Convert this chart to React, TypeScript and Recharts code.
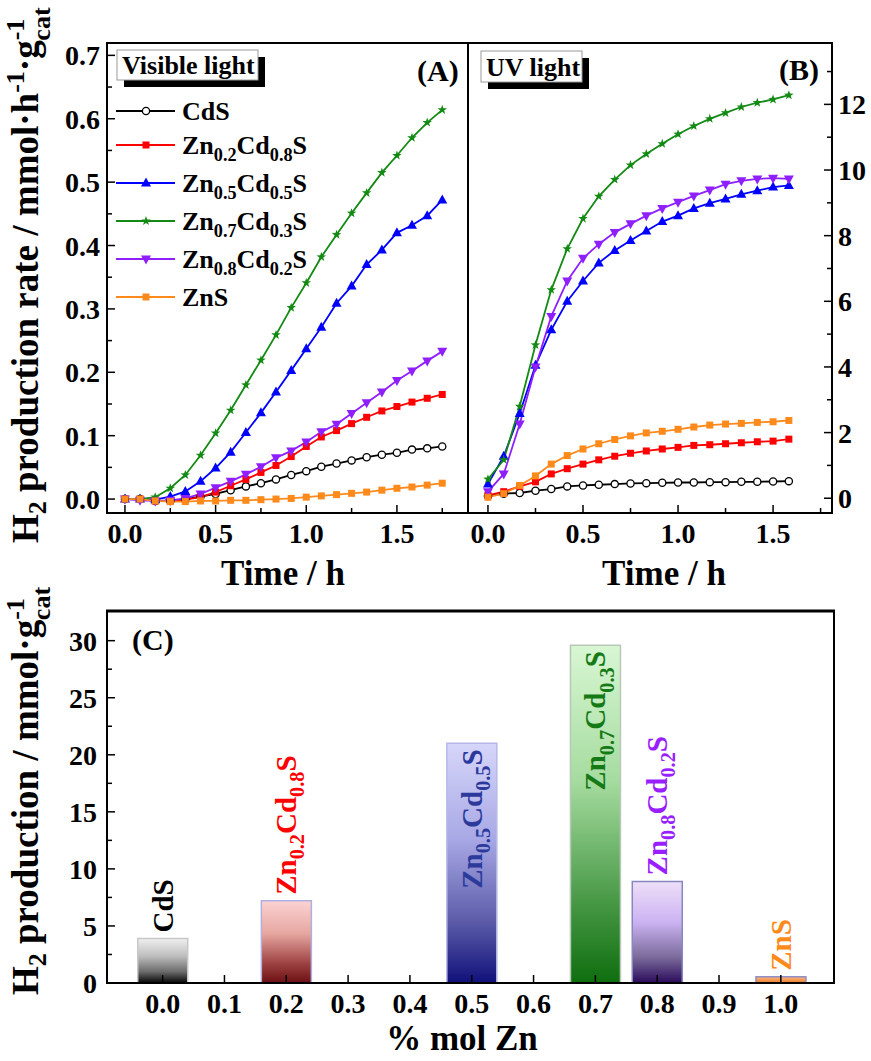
import { LineChart, Line, XAxis, YAxis, BarChart, Bar, Cell, LabelList, Legend } from 'recharts';

const SERIF = "'Liberation Serif', 'Times New Roman', serif";

// (A) visible light, rate vs time
const TIME_A = [0, 0.083, 0.167, 0.25, 0.333, 0.417, 0.5, 0.583, 0.667, 0.75, 0.833, 0.917, 1.0, 1.083, 1.167, 1.25, 1.333, 1.417, 1.5, 1.583, 1.667, 1.75];
const CDS_A = [0, 0, -0.003, -0.003, 0, 0.004, 0.008, 0.014, 0.02, 0.025, 0.031, 0.038, 0.044, 0.051, 0.056, 0.061, 0.066, 0.07, 0.073, 0.078, 0.08, 0.083];
const ZN02_A = [0, 0, -0.003, -0.003, -0.001, 0.003, 0.011, 0.021, 0.031, 0.042, 0.053, 0.067, 0.083, 0.098, 0.108, 0.119, 0.129, 0.139, 0.146, 0.153, 0.159, 0.165];
const ZN05_A = [0, 0, -0.001, 0.004, 0.012, 0.028, 0.049, 0.074, 0.105, 0.136, 0.169, 0.203, 0.237, 0.271, 0.309, 0.336, 0.37, 0.393, 0.42, 0.432, 0.447, 0.472];
const ZN07_A = [0, 0, 0.003, 0.017, 0.038, 0.069, 0.104, 0.14, 0.18, 0.219, 0.259, 0.302, 0.341, 0.382, 0.417, 0.451, 0.483, 0.515, 0.542, 0.57, 0.594, 0.614];
const ZN08_A = [0, -0.002, -0.003, -0.002, 0.001, 0.008, 0.018, 0.028, 0.039, 0.051, 0.065, 0.076, 0.09, 0.106, 0.118, 0.135, 0.152, 0.169, 0.187, 0.202, 0.218, 0.233];
const ZNS_A = [0, 0, -0.003, -0.004, -0.004, -0.003, -0.003, -0.002, -0.002, -0.001, 0, 0.001, 0.003, 0.005, 0.007, 0.009, 0.011, 0.014, 0.017, 0.019, 0.022, 0.025];

// (B) UV light
const TIME_B = [0, 0.083, 0.167, 0.25, 0.333, 0.417, 0.5, 0.583, 0.667, 0.75, 0.833, 0.917, 1.0, 1.083, 1.167, 1.25, 1.333, 1.417, 1.5, 1.583];
const CDS_B = [0.07, 0.14, 0.16, 0.23, 0.28, 0.36, 0.39, 0.41, 0.43, 0.45, 0.46, 0.47, 0.48, 0.48, 0.49, 0.49, 0.5, 0.5, 0.51, 0.52];
const ZN02_B = [0.09, 0.2, 0.36, 0.5, 0.74, 0.9, 1.04, 1.17, 1.28, 1.37, 1.44, 1.5, 1.55, 1.61, 1.63, 1.66, 1.69, 1.72, 1.74, 1.8];
const ZN05_B = [0.43, 1.28, 2.58, 4.05, 5.13, 6.0, 6.62, 7.17, 7.55, 7.85, 8.14, 8.43, 8.61, 8.83, 8.99, 9.12, 9.26, 9.37, 9.48, 9.53];
const ZN07_B = [0.58, 1.17, 2.8, 4.67, 6.35, 7.6, 8.52, 9.2, 9.71, 10.15, 10.49, 10.8, 11.09, 11.34, 11.56, 11.74, 11.92, 12.05, 12.15, 12.28];
const ZN08_B = [0.2, 0.74, 2.26, 4.0, 5.54, 6.62, 7.31, 7.74, 8.1, 8.36, 8.61, 8.83, 9.02, 9.21, 9.39, 9.57, 9.67, 9.73, 9.75, 9.73];
const ZNS_B = [0.03, 0.14, 0.39, 0.68, 1.04, 1.3, 1.5, 1.66, 1.79, 1.9, 1.99, 2.04, 2.1, 2.17, 2.23, 2.26, 2.28, 2.31, 2.33, 2.37];

// (C) total H2 vs Zn fraction
const ZN_FRACTION = [0, 0.2, 0.5, 0.7, 0.8, 1.0];
const TOTAL_H2 = [3.9, 7.2, 21.0, 29.6, 8.9, 0.55];
const BAR_NAMES = ['CdS', 'Zn0.2Cd0.8S', 'Zn0.5Cd0.5S', 'Zn0.7Cd0.3S', 'Zn0.8Cd0.2S', 'ZnS'];

const A_Y_TICKS = [0, 0.05, 0.1, 0.15, 0.2, 0.25, 0.3, 0.35, 0.4, 0.45, 0.5, 0.55, 0.6, 0.65, 0.7];
const TIME_TICKS = [0, 0.25, 0.5, 0.75, 1.0, 1.25, 1.5, 1.75];
const B_Y_TICKS = [0, 1, 2, 3, 4, 5, 6, 7, 8, 9, 10, 11, 12, 13];
const C_Y_TICKS = [0, 2.5, 5, 7.5, 10, 12.5, 15, 17.5, 20, 22.5, 25, 27.5, 30];
const C_X_TICKS = [0, 0.1, 0.2, 0.3, 0.4, 0.5, 0.6, 0.7, 0.8, 0.9, 1.0];

const SERIES = [
  { key: 'cds', name: 'CdS', color: '#000000', shape: 'circle', a: CDS_A, b: CDS_B },
  { key: 'zn02', name: 'Zn0.2Cd0.8S', color: '#ff0000', shape: 'square', a: ZN02_A, b: ZN02_B },
  { key: 'zn05', name: 'Zn0.5Cd0.5S', color: '#0000ff', shape: 'up', a: ZN05_A, b: ZN05_B },
  { key: 'zn07', name: 'Zn0.7Cd0.3S', color: '#138a13', shape: 'star', a: ZN07_A, b: ZN07_B },
  { key: 'zn08', name: 'Zn0.8Cd0.2S', color: '#8f1fff', shape: 'down', a: ZN08_A, b: ZN08_B },
  { key: 'zns', name: 'ZnS', color: '#ff8a1c', shape: 'square', a: ZNS_A, b: ZNS_B },
];

const BAR_STYLE = [
  { label: '#000000', edge: '#c8c8c8', stops: ['#f0f0f0', '#bdbdbd', '#6a6a6a', '#050505'], inside: false },
  { label: '#ff0000', edge: '#b0b0e0', stops: ['#fbd3d3', '#e6a6a0', '#a04545', '#6b0f12'], inside: false },
  { label: '#2c3a9c', edge: '#b8b8e8', stops: ['#d6d6fa', '#a8a8e6', '#5a5aa8', '#10107a'], inside: true },
  { label: '#157a15', edge: '#b8c8b8', stops: ['#d8f6d3', '#a6dca0', '#4a9a48', '#0e6e0e'], inside: true },
  { label: '#9a1fff', edge: '#8888c0', stops: ['#eedff8', '#cbb3f2', '#7a6a9a', '#2a0a5a'], inside: false },
  { label: '#ff8a1c', edge: '#9090c8', stops: ['#f7b27a', '#f5a060', '#f08a3a', '#f08a3a'], inside: false },
];

const dataA = TIME_A.map((t, i) => {
  const row: Record<string, number> = { t };
  SERIES.forEach((s) => (row[s.key] = s.a[i]));
  return row;
});
const dataB = TIME_B.map((t, i) => {
  const row: Record<string, number> = { t };
  SERIES.forEach((s) => (row[s.key] = s.b[i]));
  return row;
});
const dataC = ZN_FRACTION.map((x, i) => ({ x, value: TOTAL_H2[i] }));

// digits after letters become subscripts: Zn0.2Cd0.8S
function formula(name: string, size: number) {
  const parts = name.match(/[A-Za-z]+|[0-9.]+/g) || [];
  let low = false;
  return parts.map((p, i) => {
    const sub = /^[0-9.]/.test(p);
    const dy = sub && !low ? size * 0.28 : !sub && low ? -size * 0.28 : 0;
    low = sub;
    return (
      <tspan key={i} dy={dy} fontSize={sub ? size * 0.7 : size}>
        {p}
      </tspan>
    );
  });
}

function Marker({ cx, cy, shape, color }: { cx: number; cy: number; shape: string; color: string }) {
  if (cx == null || cy == null) return null;
  if (shape === 'circle') return <circle cx={cx} cy={cy} r={3.6} fill="#fff" stroke={color} strokeWidth={1.3} />;
  if (shape === 'square') return <rect x={cx - 3.5} y={cy - 3.5} width={7} height={7} fill={color} />;
  if (shape === 'up') return <polygon points={`${cx},${cy - 5.5} ${cx - 5},${cy + 3.5} ${cx + 5},${cy + 3.5}`} fill={color} />;
  if (shape === 'down') return <polygon points={`${cx},${cy + 5.5} ${cx - 5},${cy - 3.5} ${cx + 5},${cy - 3.5}`} fill={color} />;
  const pts: string[] = [];
  for (let k = 0; k < 10; k++) {
    const r = k % 2 === 0 ? 5 : 2;
    const a = -Math.PI / 2 + (k * Math.PI) / 5;
    pts.push(`${cx + r * Math.cos(a)},${cy + r * Math.sin(a)}`);
  }
  return <polygon points={pts.join(' ')} fill={color} />;
}

const tickText = { fontFamily: SERIF, fontWeight: 700, fontSize: 28, fill: '#000' };

// ticks point into the plot, so draw them ourselves
function leftTick(isMajor: (v: number) => boolean, fmt: (v: number) => string, gap: number) {
  return (props: any) => {
    const { x, y, payload } = props;
    const maj = isMajor(payload.value);
    return (
      <g key={`lt-${payload.value}`}>
        <line x1={x} x2={x + (maj ? 8 : 5)} y1={y} y2={y} stroke="#000" strokeWidth={1.5} />
        {maj && (
          <text x={x - gap} y={y + 10} textAnchor="end" {...tickText}>
            {fmt(payload.value)}
          </text>
        )}
      </g>
    );
  };
}

function rightTick(props: any) {
  const { x, y, payload } = props;
  const maj = payload.value % 2 === 0;
  return (
    <g key={`rt-${payload.value}`}>
      <line x1={x} x2={x - (maj ? 8 : 5)} y1={y} y2={y} stroke="#000" strokeWidth={1.5} />
      {maj && (
        <text x={x + 6} y={y + 10} textAnchor="start" {...tickText}>
          {payload.value}
        </text>
      )}
    </g>
  );
}

function bottomTick(isMajor: (v: number) => boolean, baseline: number) {
  return (props: any) => {
    const { x, y, payload } = props;
    const maj = isMajor(payload.value);
    return (
      <g key={`bt-${payload.value}`}>
        <line x1={x} x2={x} y1={y} y2={y - (maj ? 8 : 5)} stroke="#000" strokeWidth={1.5} />
        {maj && (
          <text x={x} y={y + baseline} textAnchor="middle" {...tickText}>
            {payload.value.toFixed(1)}
          </text>
        )}
      </g>
    );
  };
}

const halfHour = (v: number) => Math.abs(v * 2 - Math.round(v * 2)) < 1e-6;
const tenth = (v: number) => Math.abs(v * 10 - Math.round(v * 10)) < 1e-6;

const LEG_Y = [19, 53, 91, 129, 167, 205];

function LegendA() {
  return (
    <svg width={200} height={225} style={{ overflow: 'visible', display: 'block' }}>
      {SERIES.map((s, i) => (
        <g key={s.key}>
          <line x1={4} x2={63} y1={LEG_Y[i]} y2={LEG_Y[i]} stroke={s.color} strokeWidth={1.8} />
          <Marker cx={34} cy={LEG_Y[i]} shape={s.shape} color={s.color} />
          <text x={70} y={LEG_Y[i] + 9} fontFamily={SERIF} fontWeight={700} fontSize={26} fill="#000">
            {formula(s.name, 26)}
          </text>
        </g>
      ))}
    </svg>
  );
}

function barLabel(props: any) {
  const { x, y, width, index } = props;
  const st = BAR_STYLE[index];
  const size = 29;
  const cx = x + width / 2 + 10;
  const yy = st.inside ? y + 6 : y - 6;
  return (
    <text
      key={`bl-${index}`}
      transform={`translate(${cx},${yy}) rotate(-90)`}
      textAnchor={st.inside ? 'end' : 'start'}
      fontFamily={SERIF}
      fontWeight={700}
      fontSize={size}
      fill={st.label}
    >
      {formula(BAR_NAMES[index], size)}
    </text>
  );
}

const titleStyle = { fontFamily: SERIF, fontWeight: 700, fill: '#000' } as const;

function Overlay() {
  return (
    <svg width={871} height={1061} style={{ position: 'absolute', left: 0, top: 0, pointerEvents: 'none' }}>
      {/* frames */}
      <rect x={107} y={43} width={361} height={470} fill="none" stroke="#000" strokeWidth={2} />
      <rect x={468} y={43} width={364} height={470} fill="none" stroke="#000" strokeWidth={2} />
      <rect x={107} y={611} width={727} height={372} fill="none" stroke="#000" strokeWidth={2} />
      <line x1={106} x2={835} y1={611} y2={611} stroke="#000" strokeWidth={3} />

      {/* legend tags */}
      <rect x={124} y={57} width={141} height={30} fill="#000" />
      <rect x={117} y={50} width={141} height={30} fill="#fff" stroke="#9a9a9a" strokeWidth={1} />
      <text x={122} y={74} fontSize={26} {...titleStyle}>Visible light</text>
      <rect x={488} y={58} width={101} height={31} fill="#000" />
      <rect x={481} y={51} width={101} height={31} fill="#fff" stroke="#9a9a9a" strokeWidth={1} />
      <text x={486} y={76} fontSize={26} {...titleStyle}>UV light</text>

      <text x={417} y={81} fontSize={30} {...titleStyle}>(A)</text>
      <text x={779} y={80} fontSize={30} {...titleStyle}>(B)</text>
      <text x={132} y={650} fontSize={30} {...titleStyle}>(C)</text>

      <text x={283} y={585} fontSize={35} textAnchor="middle" {...titleStyle}>Time / h</text>
      <text x={664} y={585} fontSize={35} textAnchor="middle" {...titleStyle}>Time / h</text>
      <text x={462} y={1050} fontSize={35} textAnchor="middle" {...titleStyle}>% mol Zn</text>

      <text transform="translate(38,543) rotate(-90)" fontSize={37} {...titleStyle}>
        H<tspan dy={8} fontSize={26}>2</tspan>
        <tspan dy={-8}> production rate / mmol·h</tspan>
        <tspan dy={-14} fontSize={26}>-1</tspan>
        <tspan dy={14}>·g</tspan>
        <tspan dy={-14} fontSize={26}>-1</tspan>
        <tspan dx={-22} dy={26} fontSize={26}>cat</tspan>
      </text>
      <text transform="translate(38,995) rotate(-90)" fontSize={37} {...titleStyle}>
        H<tspan dy={8} fontSize={26}>2</tspan>
        <tspan dy={-8}> production / mmol·g</tspan>
        <tspan dy={-14} fontSize={26}>-1</tspan>
        <tspan dx={-22} dy={26} fontSize={26}>cat</tspan>
      </text>
    </svg>
  );
}

export default function App() {
  return (
    <div style={{ position: 'absolute', left: 0, top: 0, width: 871, height: 1061, background: '#fff', overflow: 'hidden' }}>
      <div style={{ position: 'absolute', left: 0, top: 0 }}>
        <LineChart width={470} height={560} data={dataA} margin={{ top: 43, right: 2, bottom: 0, left: 0 }}>
          <XAxis
            dataKey="t"
            type="number"
            domain={[-0.099, 1.892]}
            allowDataOverflow
            ticks={TIME_TICKS}
            height={47}
            axisLine={false}
            tickLine={false}
            tickSize={0}
            tickMargin={0}
            interval={0}
            tick={bottomTick(halfHour, 30)}
          />
          <YAxis
            type="number"
            domain={[-0.022, 0.7195]}
            allowDataOverflow
            ticks={A_Y_TICKS}
            width={107}
            axisLine={false}
            tickLine={false}
            tickSize={0}
            tickMargin={0}
            interval={0}
            tick={leftTick(tenth, (v) => v.toFixed(1), 7)}
          />
          {SERIES.map((s) => (
            <Line
              key={s.key}
              dataKey={s.key}
              name={s.name}
              stroke={s.color}
              strokeWidth={1.8}
              isAnimationActive={false}
              dot={(p: any) => <Marker key={`${s.key}-${p.index}`} cx={p.cx} cy={p.cy} shape={s.shape} color={s.color} />}
            />
          ))}
          <Legend
            layout="vertical"
            align="center"
            verticalAlign="middle"
            content={LegendA}
            wrapperStyle={{ left: 112, top: 92, width: 200, height: 225 }}
          />
        </LineChart>
      </div>

      <div style={{ position: 'absolute', left: 468, top: 0 }}>
        <LineChart width={403} height={560} data={dataB} margin={{ top: 43, right: 0, bottom: 0, left: 0 }}>
          <XAxis
            dataKey="t"
            type="number"
            domain={[-0.105, 1.81]}
            allowDataOverflow
            ticks={TIME_TICKS}
            height={47}
            axisLine={false}
            tickLine={false}
            tickSize={0}
            tickMargin={0}
            interval={0}
            tick={bottomTick(halfHour, 30)}
          />
          <YAxis
            orientation="right"
            type="number"
            domain={[-0.45, 13.87]}
            allowDataOverflow
            ticks={B_Y_TICKS}
            width={39}
            axisLine={false}
            tickLine={false}
            tickSize={0}
            tickMargin={0}
            interval={0}
            tick={rightTick}
          />
          {SERIES.map((s) => (
            <Line
              key={s.key}
              dataKey={s.key}
              name={s.name}
              stroke={s.color}
              strokeWidth={1.8}
              isAnimationActive={false}
              dot={(p: any) => <Marker key={`${s.key}-${p.index}`} cx={p.cx} cy={p.cy} shape={s.shape} color={s.color} />}
            />
          ))}
        </LineChart>
      </div>

      <div style={{ position: 'absolute', left: 0, top: 560 }}>
        <BarChart width={871} height={501} data={dataC} margin={{ top: 51, right: 37, bottom: 0, left: 0 }}>
          <defs>
            {BAR_STYLE.map((b, i) => (
              <linearGradient key={i} id={`barGrad${i}`} x1="0" y1="0" x2="0" y2="1">
                <stop offset="0%" stopColor={b.stops[0]} />
                <stop offset="40%" stopColor={b.stops[1]} />
                <stop offset="75%" stopColor={b.stops[2]} />
                <stop offset="100%" stopColor={b.stops[3]} />
              </linearGradient>
            ))}
          </defs>
          <XAxis
            dataKey="x"
            type="number"
            domain={[-0.09, 1.086]}
            allowDataOverflow
            ticks={C_X_TICKS}
            height={78}
            axisLine={false}
            tickLine={false}
            tickSize={0}
            tickMargin={0}
            interval={0}
            tick={bottomTick(() => true, 30)}
          />
          <YAxis
            type="number"
            domain={[0, 32.6]}
            allowDataOverflow
            ticks={C_Y_TICKS}
            width={107}
            axisLine={false}
            tickLine={false}
            tickSize={0}
            tickMargin={0}
            interval={0}
            tick={leftTick((v) => v % 5 === 0, (v) => String(v), 10)}
          />
          <Bar dataKey="value" barSize={50} isAnimationActive={false}>
            {BAR_STYLE.map((b, i) => (
              <Cell key={i} fill={`url(#barGrad${i})`} stroke={b.edge} strokeWidth={1.5} />
            ))}
            <LabelList dataKey="value" content={barLabel} />
          </Bar>
        </BarChart>
      </div>

      <Overlay />
    </div>
  );
}
